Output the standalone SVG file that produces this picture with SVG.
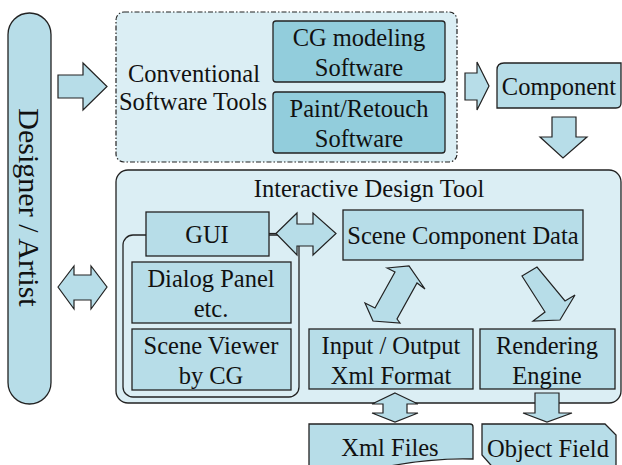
<svg xmlns="http://www.w3.org/2000/svg" width="622" height="465" viewBox="0 0 622 465">
<style>
text{font-family:'Liberation Serif','DejaVu Serif',serif;font-size:24.5px;fill:#111;text-anchor:middle}
.light{fill:#dbeef4;stroke:#222;stroke-width:1.3}
.mid{fill:#b7dde8;stroke:#222;stroke-width:1.3}
.dark{fill:#92cddc;stroke:#222;stroke-width:1.3}
.arr{fill:#b7dde8;stroke:#222;stroke-width:1.2;stroke-linejoin:miter}
</style>
<rect width="622" height="465" fill="#fff"/>

<g id="designer">
<rect class="mid" x="8" y="13" width="43" height="391" rx="21.5"/>
<text font-family="Liberation Serif, serif" style="font-size:30px" transform="translate(19,207.5) rotate(90)">Designer / Artist</text>
</g>

<g id="conventional">
<rect x="116" y="12" width="341" height="150" rx="8" fill="#dbeef4" stroke="#222" stroke-width="1.2" stroke-dasharray="5 2 1.5 2"/>
<text x="194" y="82">Conventional</text>
<text x="193" y="110">Software Tools</text>
</g>

<g id="cg">
<rect class="dark" x="273" y="21" width="172" height="61" rx="3"/>
<text x="359" y="46">CG modeling</text>
<text x="359" y="76">Software</text>
</g>

<g id="paint">
<rect class="dark" x="273" y="92" width="172" height="61" rx="3"/>
<text x="359" y="117">Paint/Retouch</text>
<text x="359" y="147">Software</text>
</g>

<g id="component">
<path class="mid" d="M497,70 Q497,63 504,63 H621 V103 Q621,108 616,108 H497 Z"/>
<text x="559" y="95">Component</text>
</g>

<g id="idt">
<rect class="light" x="116" y="170" width="505" height="233" rx="12"/>
<text x="369" y="197">Interactive Design Tool</text>
</g>

<g id="gui-container">
<rect fill="none" stroke="#222" stroke-width="1.3" x="123" y="235" width="176" height="162" rx="10"/>
</g>

<g id="gui">
<rect class="mid" x="146" y="212" width="123" height="44"/>
<text x="207" y="243">GUI</text>
</g>

<g id="dialog">
<rect class="mid" x="132" y="262" width="159" height="61"/>
<text x="211" y="287">Dialog Panel</text>
<text x="211" y="317">etc.</text>
</g>

<g id="viewer">
<rect class="mid" x="132" y="329" width="159" height="61"/>
<text x="211" y="354">Scene Viewer</text>
<text x="211" y="384">by CG</text>
</g>

<g id="scene-data">
<rect class="mid" x="343" y="210" width="240" height="50"/>
<text x="463" y="244">Scene Component Data</text>
</g>

<g id="io">
<rect class="mid" x="309" y="329" width="164" height="60"/>
<text x="391" y="354">Input / Output</text>
<text x="391" y="384">Xml Format</text>
</g>

<g id="rendering">
<rect class="mid" x="480" y="329" width="135" height="60"/>
<text x="547" y="354">Rendering</text>
<text x="547" y="384">Engine</text>
</g>

<g id="xml-files">
<path class="mid" d="M309,424 H470 Q473,424 473,427 V459 C440,458 410,462 385,467 L309,472 Z"/>
<text x="390" y="456">Xml Files</text>
</g>

<g id="object-field">
<path class="mid" d="M482,424 H605 L616,435 V472 H497 L482,455 Z"/>
<text x="548" y="457">Object Field</text>
</g>

<g id="connectors">
<polygon class="arr" points="58,75 83,75 83,63 107,86.5 83,110 83,98 58,98"/>
<polygon class="arr" points="465,73 477,73 477,62 489,86 477,110 477,100 465,100"/>
<polygon class="arr" points="552,117 576,117 576,137 587,137 563,158 540,137 552,137"/>
<polygon class="arr" points="58,287 74,266 74,275 91,275 91,266 107,287 91,309 91,300 74,300 74,309"/>
<line x1="269" y1="233.5" x2="276" y2="233.5" stroke="#222" stroke-width="1.2"/>
<polygon class="arr" points="276,233.5 297,213 297,224 313,224 313,213 336,233.5 313,255 313,246 297,246 297,255"/>
<polygon class="arr" points="387,268 409,266 425,289 417,283 397,319 400,323 373,321 365,303 375,308 395,272"/>
<polygon class="arr" points="522,276 537,267 565,301 575,295 560,320 533,321 545,312"/>
<polygon class="arr" points="395,393 418,404 407,404 407,413 418,413 395,422 372,413 383,413 383,404 372,404"/>
<polygon class="arr" points="535,393 559,393 559,413 572,413 547,422 523,413 535,413"/>
</g>
</svg>
